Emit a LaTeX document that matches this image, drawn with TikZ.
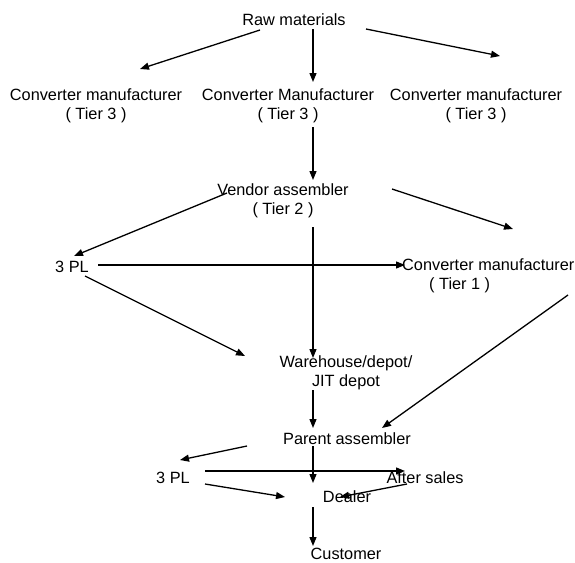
\documentclass[tikz,border=0pt]{standalone}
\usepackage{fontspec}
\setmainfont{Liberation Sans}
\usetikzlibrary{arrows.meta}
\begin{document}
\begin{tikzpicture}[x=1pt, y=-1pt,
    txt/.style={font=\fontsize{16.3}{19}\selectfont, align=center, inner sep=0pt},
    flow/.style={-{Triangle[length=9pt, width=7pt]}, line width=1.3pt}]
  \useasboundingbox (0,0) rectangle (575,562);

  \node[txt] (raw) at (294,20) {Raw materials};
  \node[txt] (cmA) at (96,105.5) {Converter manufacturer\\( Tier 3 )};
  \node[txt] (cmB) at (288,105.5) {Converter Manufacturer\\( Tier 3 )};
  \node[txt] (cmC) at (476,105.5) {Converter manufacturer\\( Tier 3 )};
  \node[txt] (vendor) at (283,200.5) {Vendor assembler\\( Tier 2 )};
  \node[txt] (tplA) at (72,267) {3 PL};
  \node[txt, align=left, anchor=west] (cmT) at (402,276) {Converter manufacturer\\\hspace*{27pt}( Tier 1 )};
  \node[txt] (house) at (346,372.5) {Warehouse/depot/\\JIT depot};
  \node[txt] (parent) at (347,439) {Parent assembler};
  \node[txt] (tplB) at (173,478) {3 PL};
  \node[txt] (after) at (425,478) {After sales};
  \node[txt] (dealer) at (347,497) {Dealer};
  \node[txt] (cust) at (346,553.5) {Customer};

  \coordinate (raw-l) at (260,30);   \coordinate (cmA-in) at (140,69);
  \coordinate (raw-m) at (313,29);   \coordinate (cmB-in) at (313,82);
  \coordinate (raw-r) at (366,29);   \coordinate (cmC-in) at (500,56);
  \coordinate (cmB-out) at (313,127); \coordinate (vendor-in) at (313,180);
  \coordinate (vendor-l) at (227,193); \coordinate (tplA-in) at (74,256);
  \coordinate (vendor-r) at (392,189); \coordinate (cmT-in) at (513,229);
  \coordinate (tplA-r) at (98,265);  \coordinate (cmT-w) at (405,265);
  \coordinate (vendor-out) at (313,227); \coordinate (house-in) at (313,358);
  \coordinate (tplA-d) at (85,276);  \coordinate (house-l) at (245,356);
  \coordinate (cmT-out) at (568,295); \coordinate (parent-r) at (382,428);
  \coordinate (house-out) at (313,390); \coordinate (parent-in) at (313,428);
  \coordinate (parent-l) at (247,446); \coordinate (tplB-in) at (180,460);
  \coordinate (tplB-r) at (205,471); \coordinate (after-in) at (405,471);
  \coordinate (parent-out) at (313,446); \coordinate (dealer-in) at (313,483);
  \coordinate (tplB-d) at (205,484); \coordinate (dealer-l) at (285,497);
  \coordinate (after-out) at (407,484); \coordinate (dealer-r) at (340,497);
  \coordinate (dealer-out) at (313,507); \coordinate (cust-in) at (313,546);

  \draw[flow] (raw-l) -- (cmA-in);
  \draw[flow] (raw-m) -- (cmB-in);
  \draw[flow] (raw-r) -- (cmC-in);
  \draw[flow] (cmB-out) -- (vendor-in);
  \draw[flow] (vendor-l) -- (tplA-in);
  \draw[flow] (vendor-r) -- (cmT-in);
  \draw[flow] (tplA-r) -- (cmT-w);
  \draw[flow] (vendor-out) -- (house-in);
  \draw[flow] (tplA-d) -- (house-l);
  \draw[flow] (cmT-out) -- (parent-r);
  \draw[flow] (house-out) -- (parent-in);
  \draw[flow] (parent-l) -- (tplB-in);
  \draw[flow] (tplB-r) -- (after-in);
  \draw[flow] (parent-out) -- (dealer-in);
  \draw[flow] (tplB-d) -- (dealer-l);
  \draw[flow] (after-out) -- (dealer-r);
  \draw[flow] (dealer-out) -- (cust-in);
\end{tikzpicture}
\end{document}
